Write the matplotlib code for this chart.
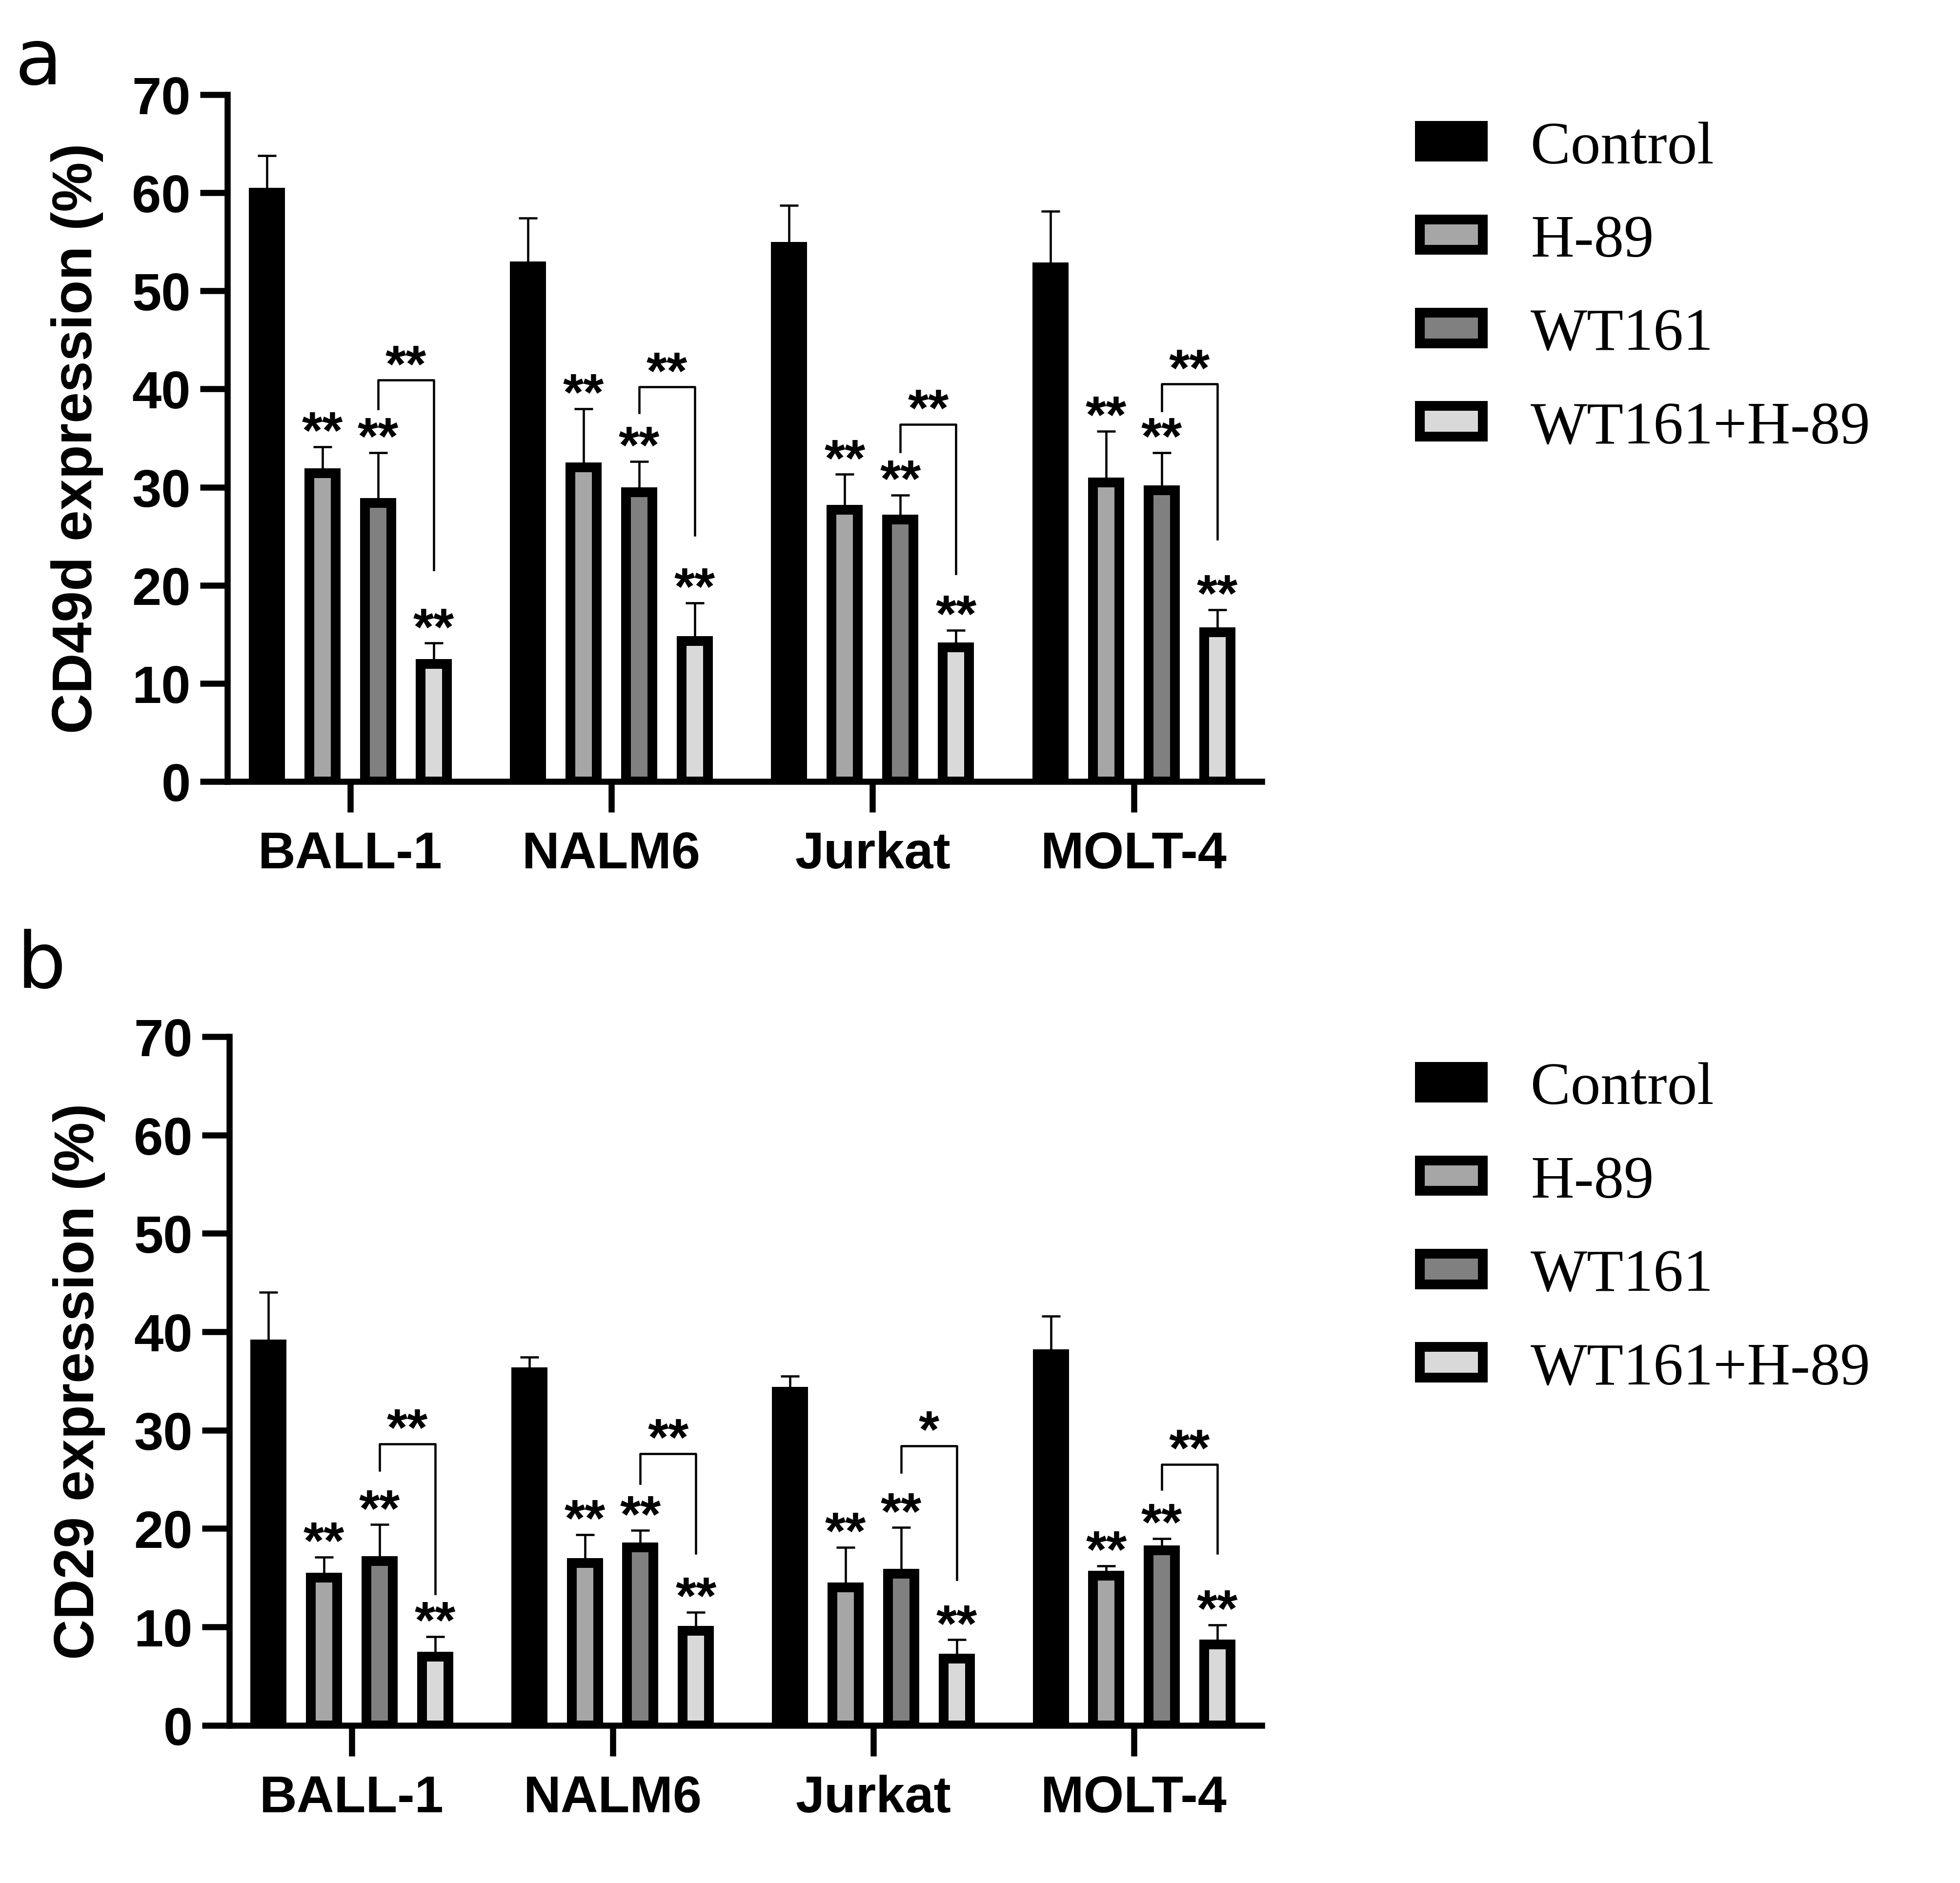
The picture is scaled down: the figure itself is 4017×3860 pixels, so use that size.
import numpy as np
import matplotlib.pyplot as plt
from matplotlib.font_manager import FontProperties

cell_lines = ['BALL-1', 'NALM6', 'Jurkat', 'MOLT-4']
groups = ['Control', 'H-89', 'WT161', 'WT161+H-89']
colors = ['#000000', '#a6a6a6', '#808080', '#d9d9d9']

# panel a: CD49d expression (%), mean and SD
cd49d_control = [60.0, 52.5, 54.5, 52.4]
cd49d_control_sd = [3.8, 4.9, 4.2, 5.7]
cd49d_h89 = [31.4, 32.0, 27.7, 30.5]
cd49d_h89_sd = [2.7, 6.0, 3.6, 5.2]
cd49d_wt161 = [28.4, 29.5, 26.7, 29.7]
cd49d_wt161_sd = [5.1, 3.1, 2.5, 3.8]
cd49d_combo = [12.0, 14.3, 13.7, 15.2]
cd49d_combo_sd = [2.1, 3.9, 1.7, 2.3]
cd49d_bracket_top = [40.9, 40.2, 36.4, 40.5]
cd49d_bracket_left = [38.0, 37.6, 33.6, 37.8]
cd49d_bracket_right = [21.6, 25.1, 21.2, 24.7]
cd49d_bracket_sig = ['**', '**', '**', '**']

# panel b: CD29 expression (%)
cd29_control = [38.7, 35.9, 33.9, 37.7]
cd29_control_sd = [5.3, 1.5, 1.6, 3.9]
cd29_h89 = [15.0, 16.5, 14.0, 15.2]
cd29_h89_sd = [2.1, 2.9, 4.1, 1.0]
cd29_wt161 = [16.7, 18.1, 15.4, 17.8]
cd29_wt161_sd = [3.7, 1.7, 4.7, 1.2]
cd29_combo = [7.0, 9.6, 6.8, 8.2]
cd29_combo_sd = [2.0, 1.9, 1.9, 2.0]
cd29_bracket_top = [28.6, 27.6, 28.4, 26.5]
cd29_bracket_left = [25.9, 24.6, 25.7, 24.0]
cd29_bracket_right = [13.4, 17.5, 14.8, 17.5]
cd29_bracket_sig = ['**', '**', '*', '**']

BAR_W = 0.101
STEP = 0.213
sans = 'Liberation Sans'


def draw_panel(ax, means, sds, br_top, br_left, br_right, br_sig, ylabel, legend_y):
    x = np.arange(len(cell_lines))
    bars = []
    for i, (m, s) in enumerate(zip(means, sds)):
        xi = x + (i - 1.5) * STEP
        b = ax.bar(xi, m, width=BAR_W, color=colors[i], edgecolor='k',
                   linewidth=4.8, zorder=3)
        bars.append(b)
        ax.errorbar(xi, m, yerr=[np.zeros(len(s)), s], fmt='none', ecolor='k',
                    elinewidth=1.1, capsize=4.6, capthick=1.1, zorder=2)
        if i > 0:
            for xx, top in zip(xi, np.array(m) + np.array(s)):
                ax.annotate('**', xy=(xx, top), xytext=(0, -0.5), textcoords='offset points',
                            ha='center', va='baseline', fontsize=26, fontweight='bold',
                            family=sans)

    # brackets between WT161 and WT161+H-89
    for j in range(len(cell_lines)):
        x1 = x[j] + 0.5 * STEP
        x2 = x[j] + 1.5 * STEP
        ax.plot([x1, x1, x2, x2], [br_left[j], br_top[j], br_top[j], br_right[j]],
                color='k', lw=1.1, zorder=4)
        ax.annotate(br_sig[j], xy=((x1 + x2) / 2, br_top[j]), xytext=(0, -0.5),
                    textcoords='offset points', ha='center', va='baseline',
                    fontsize=26, fontweight='bold', family=sans)

    ax.set_xlim(-0.47, 3.49)
    ax.set_ylim(0, 70)
    ax.set_yticks(range(0, 71, 10))
    ax.set_xticks(x)
    ax.set_xticklabels(cell_lines, fontsize=25.5, fontweight='bold', family=sans)
    for lab in ax.get_yticklabels():
        lab.set_fontsize(26)
        lab.set_fontweight('bold')
        lab.set_family(sans)
    ax.set_ylabel(ylabel, fontsize=27.5, fontweight='bold', family=sans, labelpad=14)
    ax.spines['top'].set_visible(False)
    ax.spines['right'].set_visible(False)
    ax.spines['left'].set_linewidth(3)
    ax.spines['bottom'].set_linewidth(3)
    ax.tick_params(axis='y', length=13.5, width=3, pad=4.5)
    ax.tick_params(axis='x', length=15, width=3, pad=9)

    ax.legend(bars, groups, loc='upper left', bbox_to_anchor=(0.7244, legend_y),
              bbox_transform=ax.figure.transFigure, frameon=False,
              prop=FontProperties(family='Liberation Serif', size=29.5),
              handlelength=1.05, handleheight=0.41, handletextpad=0.8,
              labelspacing=0.65, borderpad=0, borderaxespad=0)


fig = plt.figure(figsize=(4017 / 300, 3861 / 300), dpi=300)
ax1 = fig.add_axes([0.116, 0.5848, 0.5278, 0.3647])
ax2 = fig.add_axes([0.117, 0.0837, 0.5268, 0.3657])

draw_panel(ax1,
           [cd49d_control, cd49d_h89, cd49d_wt161, cd49d_combo],
           [cd49d_control_sd, cd49d_h89_sd, cd49d_wt161_sd, cd49d_combo_sd],
           cd49d_bracket_top, cd49d_bracket_left, cd49d_bracket_right, cd49d_bracket_sig,
           'CD49d expression (%)', 0.9355)
draw_panel(ax2,
           [cd29_control, cd29_h89, cd29_wt161, cd29_combo],
           [cd29_control_sd, cd29_h89_sd, cd29_wt161_sd, cd29_combo_sd],
           cd29_bracket_top, cd29_bracket_left, cd29_bracket_right, cd29_bracket_sig,
           'CD29 expression (%)', 0.4359)

fig.text(0.0075, 0.9552, 'a', fontsize=38, family='DejaVu Sans', ha='left', va='baseline')
fig.text(0.0085, 0.4755, 'b', fontsize=38, family='DejaVu Sans', ha='left', va='baseline')

fig.savefig('out.png', dpi=300, facecolor='white')
